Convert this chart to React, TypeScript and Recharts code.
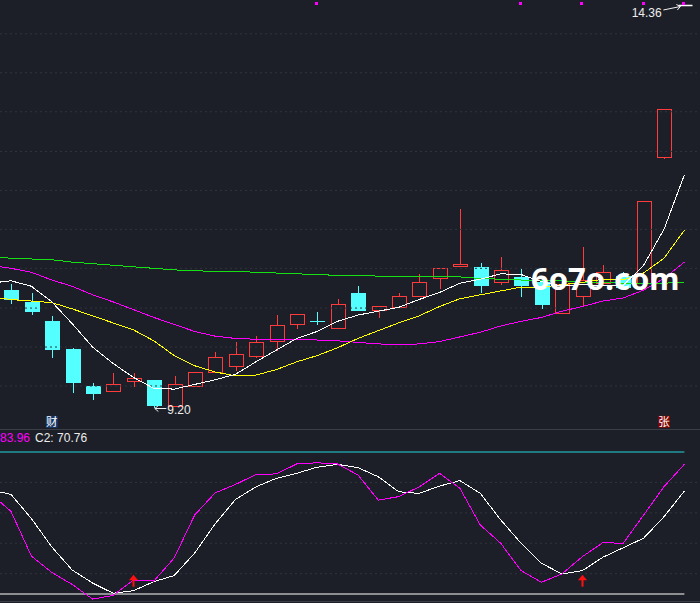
import React from 'react';
import { ComposedChart, Line, Bar, Scatter, XAxis, YAxis, ReferenceLine } from 'recharts';

// ---------- data ----------
const IDX = [0, 1, 2, 3, 4, 5, 6, 7, 8, 9, 10, 11, 12, 13, 14, 15, 16, 17, 18, 19, 20, 21, 22, 23, 24, 25, 26, 27, 28, 29, 30, 31, 32, 33, 34];

const OPEN = [null, 10.70, 10.55, 10.31, 9.94, 9.47, 9.41, 9.53, 9.55, 9.21, 9.47, 9.65, 9.73, 9.86, 10.05, 10.26, 10.31, 10.22, 10.66, 10.45, 10.49, 10.62, 10.85, 11.01, 11.00, 10.80, 10.87, 10.81, 10.41, 10.62, 10.79, 10.88, 10.79, 12.41, 14.36];
const CLOSE = [null, 10.59, 10.43, 9.95, 9.52, 9.38, 9.50, 9.57, 9.23, 9.49, 9.65, 9.84, 9.88, 10.04, 10.25, 10.39, 10.30, 10.52, 10.45, 10.50, 10.62, 10.80, 10.98, 11.04, 10.76, 10.96, 10.76, 10.52, 10.78, 10.83, 10.93, 10.74, 11.84, 13.03, 14.36];
const HIGH = [null, 10.79, 10.68, 10.38, 9.97, 9.52, 9.65, 9.65, 9.56, 9.61, 9.65, 9.92, 10.05, 10.12, 10.39, 10.41, 10.43, 10.60, 10.76, 10.51, 10.68, 10.92, 10.98, 11.75, 11.06, 11.14, 10.98, 10.84, 10.82, 11.27, 11.04, 10.94, 11.84, 13.03, 14.36];
const LOW = [null, 10.54, 10.39, 9.84, 9.39, 9.30, 9.41, 9.47, 9.20, 9.21, 9.47, 9.65, 9.68, 9.84, 9.93, 10.21, 10.26, 10.21, 10.44, 10.36, 10.49, 10.62, 10.73, 11.01, 10.67, 10.78, 10.62, 10.47, 10.41, 10.50, 10.78, 10.73, 10.79, 12.39, 14.36];

const MA5 = [10.79, 10.82, 10.75, 10.55, 10.27, 9.97, 9.76, 9.58, 9.44, 9.43, 9.49, 9.55, 9.62, 9.78, 9.93, 10.08, 10.17, 10.30, 10.38, 10.43, 10.48, 10.58, 10.67, 10.79, 10.84, 10.91, 10.90, 10.81, 10.75, 10.77, 10.76, 10.76, 11.02, 11.48, 12.18];
const MA10 = [10.61, 10.58, 10.56, 10.54, 10.46, 10.37, 10.28, 10.19, 10.05, 9.86, 9.73, 9.65, 9.60, 9.61, 9.68, 9.78, 9.86, 9.96, 10.08, 10.18, 10.28, 10.37, 10.49, 10.59, 10.64, 10.69, 10.74, 10.74, 10.77, 10.80, 10.84, 10.83, 10.92, 11.11, 11.47];
const MA20 = [11.02, 10.98, 10.93, 10.83, 10.75, 10.64, 10.55, 10.45, 10.35, 10.26, 10.17, 10.11, 10.08, 10.07, 10.07, 10.07, 10.06, 10.05, 10.03, 10.01, 10.00, 10.01, 10.04, 10.10, 10.16, 10.24, 10.30, 10.35, 10.43, 10.49, 10.56, 10.60, 10.70, 10.85, 11.06];
const MA60 = [11.13, 11.11, 11.10, 11.09, 11.06, 11.04, 11.02, 11.00, 10.98, 10.96, 10.95, 10.94, 10.94, 10.93, 10.92, 10.91, 10.90, 10.89, 10.89, 10.88, 10.87, 10.87, 10.87, 10.87, 10.85, 10.84, 10.83, 10.83, 10.82, 10.80, 10.80, 10.79, 10.78, 10.79, 10.80];

const C1 = [69.5, 60.7, 38.7, 30.6, 24.7, 17.5, 19.3, 26.9, 26.4, 37.8, 58.9, 69.8, 74.0, 78.9, 79.2, 84.1, 84.7, 84.1, 78.7, 66.3, 68.0, 72.8, 79.5, 72.1, 54.0, 45.0, 31.5, 25.8, 29.9, 38.4, 45.3, 45.0, 58.9, 72.9, 83.96];
const C2 = [71.3, 69.1, 57.2, 43.2, 31.8, 25.4, 20.4, 21.6, 26.1, 29.1, 40.2, 54.5, 66.6, 72.8, 77.0, 79.5, 82.5, 83.9, 82.3, 77.8, 70.4, 69.6, 73.2, 75.9, 69.6, 56.5, 45.0, 35.1, 29.9, 31.5, 38.1, 42.8, 47.5, 58.1, 70.76];

const SIGNAL_IDX = [16, 26, 29, 32, 34];
const SIGNAL_LEVEL = 14.37;
const EVENT_IDX = [3, 33];
const EVENT_TEXT = ['财', '张'];
const EVENT_LEVEL = 9.01;
const CROSS_IDX = [7, 29];
const ARROW_LEVEL = 23.6;

const MAIN_GRID = [13.99, 13.49, 12.99, 12.48, 11.98, 11.48, 10.98, 10.47, 9.97, 9.47];
const SUB_GRID = [75, 60, 45, 30];
const SUB_UPPER = 90;
const SUB_LOWER = 20;

// ---------- layout / style ----------
const W = 700;
const MAIN_H = 429;
const SUB_H = 174;
const X_DOMAIN: [number, number] = [0.461, 34.765];
const Y_MAIN: [number, number] = [8.918, 14.424];
const Y_SUB: [number, number] = [15.565, 101.338];

const BG = '#1c1f27';
const GRID = '#30343d';
const RED = '#ff3b3b';
const CYAN = '#54ffff';
const C_WHITE = '#ffffff';
const C_YELLOW = '#ffff00';
const C_MAGENTA = '#ff00ff';
const C_GREEN = '#14e014';
const C_SUBCYAN = '#22d8dc';
const TXT_FONT = '"Liberation Sans", Arial, sans-serif';
const CRISP = { shapeRendering: 'crispEdges' as const };

const rows = IDX.map((i, k) => ({
  i,
  open: OPEN[k],
  close: CLOSE[k],
  high: HIGH[k],
  low: LOW[k],
  ma5: MA5[k],
  ma10: MA10[k],
  ma20: MA20[k],
  ma60: MA60[k],
  c1: C1[k],
  c2: C2[k],
}));

const lastIdx = IDX[IDX.length - 1];

let minK = 1;
let maxK = 1;
IDX.forEach((_, k) => {
  if (LOW[k] != null && (LOW[k] as number) < (LOW[minK] as number)) minK = k;
  if (HIGH[k] != null && (HIGH[k] as number) >= (HIGH[maxK] as number)) maxK = k;
});
const lowPoint = [{ i: IDX[minK], v: LOW[minK] }];
const highPoint = [{ i: IDX[maxK], v: HIGH[maxK] }];
const signalPoints = SIGNAL_IDX.map((i) => ({ i, v: SIGNAL_LEVEL }));
const eventPoints = EVENT_IDX.map((i, k) => ({ i, v: EVENT_LEVEL, t: EVENT_TEXT[k] }));
const crossPoints = CROSS_IDX.map((i) => ({ i, v: ARROW_LEVEL }));

// ---------- shapes ----------
const CandleShape = (props: any) => {
  const { x, y, width, height, payload } = props;
  if (!payload || payload.high == null || x == null || isNaN(x)) return null;
  const { open, close, high, low } = payload;
  const top = Math.min(y, y + height);
  const h = Math.abs(height);
  const span = high - low;
  const py = (p: number) => (span > 0 ? top + ((high - p) / span) * h : top);
  const cx = Math.round(x + width / 2) + 0.5;
  const half = 7;
  const yH = Math.round(py(high)) + 0.5;
  const yL = Math.round(py(low)) + 0.5;
  if (span <= 0) {
    return <line x1={cx - half} x2={cx + half} y1={yH} y2={yH} stroke={C_WHITE} strokeWidth={1.5} />;
  }
  const bodyTop = Math.round(py(Math.max(open, close))) + 0.5;
  const bodyBot = Math.round(py(Math.min(open, close))) + 0.5;
  if (close >= open) {
    return (
      <g style={CRISP}>
        {yH < bodyTop && <line x1={cx} x2={cx} y1={yH} y2={bodyTop} stroke={RED} />}
        {yL > bodyBot && <line x1={cx} x2={cx} y1={bodyBot} y2={yL} stroke={RED} />}
        <rect x={cx - half} y={bodyTop} width={2 * half} height={Math.max(bodyBot - bodyTop, 1)} fill={BG} stroke={RED} />
      </g>
    );
  }
  return (
    <g style={CRISP}>
      <line x1={cx} x2={cx} y1={yH} y2={yL} stroke={CYAN} />
      <rect x={cx - half - 0.5} y={bodyTop - 0.5} width={2 * half + 1} height={Math.max(bodyBot - bodyTop, 0) + 1} fill={CYAN} />
    </g>
  );
};

const LowLabel = (props: any) => {
  const { cx, cy, payload } = props;
  if (cx == null) return null;
  const ay = cy + 1.5;
  return (
    <g>
      <line x1={cx + 1} y1={ay} x2={cx + 12.5} y2={ay} stroke="#f0f0f0" />
      <path d={`M${cx + 4.5},${ay - 3} L${cx + 1},${ay} L${cx + 4.5},${ay + 3}`} stroke="#f0f0f0" fill="none" />
      <text x={cx + 13.5} y={cy + 7.3} fill="#eeeeee" fontSize={12} fontFamily={TXT_FONT}>
        {Number(payload.v).toFixed(2)}
      </text>
    </g>
  );
};

const HighLabel = (props: any) => {
  const { cx, cy, payload } = props;
  if (cx == null) return null;
  const x1 = cx - 21;
  const y1 = cy + 5;
  const x2 = cx - 4;
  const y2 = cy + 1.5;
  return (
    <g>
      <line x1={x1} y1={y1} x2={x2} y2={y2} stroke="#f0f0f0" />
      <path d={`M${x2 - 4},${y2 - 2} L${x2},${y2} L${x2 - 3},${y2 + 3.5}`} stroke="#f0f0f0" fill="none" />
      <text x={cx - 22.7} y={cy + 12.3} fill="#eeeeee" fontSize={12} fontFamily={TXT_FONT} textAnchor="end">
        {Number(payload.v).toFixed(2)}
      </text>
    </g>
  );
};

const SignalDot = (props: any) => {
  const { cx, cy } = props;
  if (cx == null) return null;
  return <rect x={Math.round(cx) - 2} y={Math.round(cy) - 2} width={3} height={3} fill={C_MAGENTA} />;
};

const EventIcon = (props: any) => {
  const { cx, cy, payload } = props;
  if (cx == null) return null;
  const isBlue = payload.t === '财';
  return (
    <g>
      <rect x={cx - 6} y={cy - 6} width={12} height={12} fill={isBlue ? '#17386a' : '#7c0606'} />
      <text x={cx} y={cy + 4.5} fill="#ffffff" fontSize={11.5} textAnchor="middle" fontFamily='"Noto Sans CJK SC", sans-serif'>
        {payload.t}
      </text>
    </g>
  );
};

const UpArrow = (props: any) => {
  const { cx, cy } = props;
  if (cx == null) return null;
  const x = Math.round(cx) + 0.5;
  return (
    <g>
      <line x1={x} y1={cy} x2={x} y2={cy - 8} stroke="#ff1010" strokeWidth={2} />
      <path d={`M${x - 4.5},${cy - 6.5} L${x},${cy - 12} L${x + 4.5},${cy - 6.5} Z`} fill="#ff1010" />
    </g>
  );
};

// ---------- component ----------
export default function App() {
  return (
    <div
      style={{
        position: 'fixed',
        left: 0,
        top: 0,
        width: W,
        height: MAIN_H + SUB_H,
        background: BG,
        overflow: 'hidden',
      }}
    >
      <div style={{ position: 'absolute', left: 0, top: 0 }}>
        <ComposedChart width={W} height={MAIN_H} data={rows} margin={{ top: 0, right: 0, bottom: 0, left: 0 }}>
          <XAxis dataKey="i" type="number" domain={X_DOMAIN} allowDataOverflow hide />
          <YAxis type="number" domain={Y_MAIN} allowDataOverflow hide />
          {MAIN_GRID.map((p) => (
            <ReferenceLine key={p} y={p} stroke={GRID} strokeDasharray="2 3" />
          ))}
          <Bar
            dataKey={(d: any) => (d.high == null ? null : [d.low, d.high])}
            barSize={15}
            shape={<CandleShape />}
            isAnimationActive={false}
          />
          <Line type="linear" dataKey="ma60" stroke={C_GREEN} strokeWidth={1} dot={false} isAnimationActive={false} style={CRISP} />
          <Line type="linear" dataKey="ma20" stroke={C_MAGENTA} strokeWidth={1} dot={false} isAnimationActive={false} style={CRISP} />
          <Line type="linear" dataKey="ma10" stroke={C_YELLOW} strokeWidth={1} dot={false} isAnimationActive={false} style={CRISP} />
          <Line type="linear" dataKey="ma5" stroke={C_WHITE} strokeWidth={1} dot={false} isAnimationActive={false} style={CRISP} />
          <Scatter data={signalPoints} dataKey="v" shape={<SignalDot />} isAnimationActive={false} />
          <Scatter data={eventPoints} dataKey="v" shape={<EventIcon />} isAnimationActive={false} />
          <Scatter data={lowPoint} dataKey="v" shape={<LowLabel />} isAnimationActive={false} />
          <Scatter data={highPoint} dataKey="v" shape={<HighLabel />} isAnimationActive={false} />
        </ComposedChart>
      </div>

      <div style={{ position: 'absolute', left: 0, top: MAIN_H }}>
        <ComposedChart width={W} height={SUB_H} data={rows} margin={{ top: 0, right: 0, bottom: 0, left: 0 }}>
          <XAxis dataKey="i" type="number" domain={X_DOMAIN} allowDataOverflow hide />
          <YAxis type="number" domain={Y_SUB} allowDataOverflow hide />
          {SUB_GRID.map((v) => (
            <ReferenceLine key={v} y={v} stroke={GRID} strokeDasharray="2 3" />
          ))}
          <ReferenceLine
            segment={[
              { x: X_DOMAIN[0], y: SUB_UPPER },
              { x: lastIdx, y: SUB_UPPER },
            ]}
            stroke={C_SUBCYAN}
            strokeWidth={1}
          />
          <ReferenceLine
            segment={[
              { x: X_DOMAIN[0], y: SUB_LOWER },
              { x: lastIdx, y: SUB_LOWER },
            ]}
            stroke={C_WHITE}
            strokeWidth={1}
          />
          <Line type="linear" dataKey="c2" stroke={C_WHITE} strokeWidth={1} dot={false} isAnimationActive={false} style={CRISP} />
          <Line type="linear" dataKey="c1" stroke={C_MAGENTA} strokeWidth={1} dot={false} isAnimationActive={false} style={CRISP} />
          <Scatter data={crossPoints} dataKey="v" shape={<UpArrow />} isAnimationActive={false} />
        </ComposedChart>
      </div>

      <svg
        width={W}
        height={MAIN_H + SUB_H}
        style={{ position: 'absolute', left: 0, top: 0, pointerEvents: 'none' }}
      >
        <line x1={0} x2={W} y1={429.5} y2={429.5} stroke="#3a3e47" />
        <line x1={0} x2={W} y1={601.5} y2={601.5} stroke="#3a3e47" />
        <text x={0} y={441.7} fontSize={12} fontFamily={TXT_FONT}>
          <tspan fill={C_MAGENTA}>{C1[C1.length - 1].toFixed(2)}</tspan>
          <tspan fill="#eeeeee" dx={5}>{`C2: ${C2[C2.length - 1].toFixed(2)}`}</tspan>
        </text>
        <text x={531} y={290} fontSize={31} fontWeight={700} fontFamily='"Noto Sans", sans-serif' fill="#ffffff">
          6o7o.com
        </text>
      </svg>
    </div>
  );
}
